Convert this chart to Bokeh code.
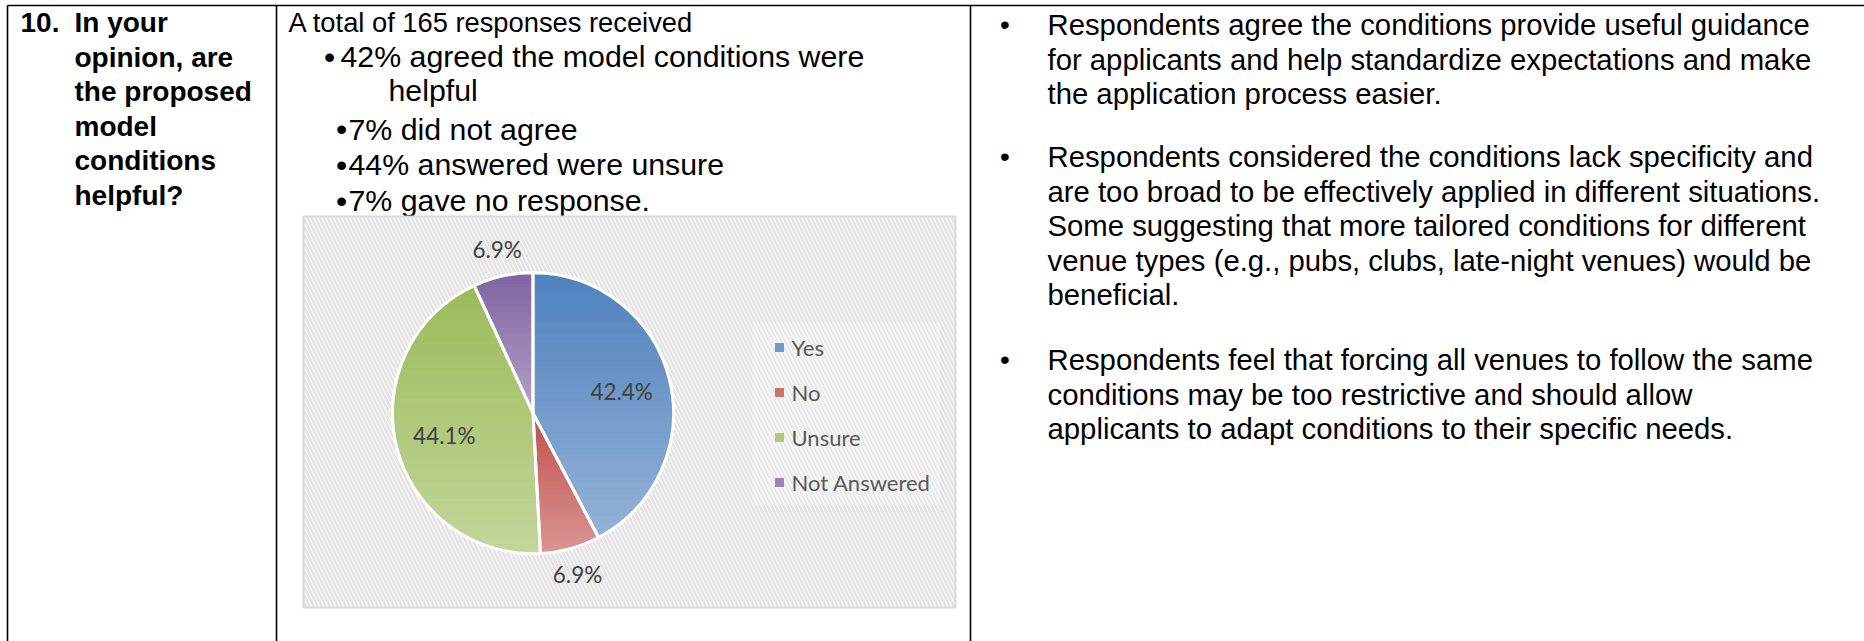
import numpy as np
from bokeh.plotting import figure
from bokeh.models import Range1d
from bokeh.core.properties import value
from bokeh.embed import file_html
from bokeh.resources import INLINE

# ---------------- data ----------------
categories = ["Yes", "No", "Unsure", "Not Answered"]
percents = [42.4, 6.9, 44.1, 6.9]
label_texts = ["42.4%", "6.9%", "44.1%", "6.9%"]
top_colors = ["#4f81bd", "#c0504d", "#9bbb59", "#8064a2"]
bottom_colors = ["#95b3d7", "#d99694", "#c3d69b", "#b3a2c7"]
label_outside = [False, True, False, True]

question_number = "10."
question_lines = ["In your", "opinion, are", "the proposed", "model", "conditions", "helpful?"]

summary_title = "A total of 165 responses received"
summary_lines = ["42% agreed the model conditions were", "helpful", "7% did not agree",
                 "44% answered were unsure", "7% gave no response."]

comment_paragraphs = [
    ["Respondents agree the conditions provide useful guidance",
     "for applicants and help standardize expectations and make",
     "the application process easier."],
    ["Respondents considered the conditions lack specificity and",
     "are too broad to be effectively applied in different situations.",
     "Some suggesting that more tailored conditions for different",
     "venue types (e.g., pubs, clubs, late-night venues) would be",
     "beneficial."],
    ["Respondents feel that forcing all venues to follow the same",
     "conditions may be too restrictive and should allow",
     "applicants to adapt conditions to their specific needs."],
]

# ---------------- layout helpers (page pixel coords) ----------------
W, H = 1864, 641


def Y(yp):
    return H - yp


p = figure(width=W, height=H, x_range=Range1d(0, W), y_range=Range1d(0, H),
           output_backend="svg", toolbar_location=None, min_border=0,
           x_axis_location=None, y_axis_location=None)
p.grid.visible = False
p.outline_line_color = None
p.background_fill_color = "white"

ARIAL = value("Liberation Sans")
CAL = value("Lato")

# ---------------- table lines ----------------
p.segment(x0=[7, 7, 276, 970], y0=[Y(5), Y(5), Y(5), Y(5)],
          x1=[1864, 7, 276, 970], y1=[Y(5), Y(641), Y(641), Y(641)],
          line_color="black", line_width=1.6)

# ---------------- column 1 ----------------
fs1 = "28px"
mid1 = [22 + 34.5 * i for i in range(len(question_lines))]
p.text(x=[20], y=[Y(mid1[0])], text=[question_number], text_font=ARIAL,
       text_font_size=fs1, text_font_style="bold", text_baseline="middle", text_color="black")
p.text(x=[74] * len(question_lines), y=[Y(m) for m in mid1], text=question_lines,
       text_font=ARIAL, text_font_size=fs1, text_font_style="bold",
       text_baseline="middle", text_color="black")

# ---------------- column 2 ----------------
mid2 = [22, 56, 89.5, 128.5, 164, 200]
p.text(x=[288], y=[Y(mid2[0])], text=[summary_title], text_font=ARIAL,
       text_font_size="27.3px", text_baseline="middle", text_color="black")
x2 = [340, 388, 348, 348, 348]
p.text(x=x2, y=[Y(m) for m in mid2[1:]], text=summary_lines, text_font=ARIAL,
       text_font_size="30.3px", text_baseline="middle", text_color="black")
bul2_x = [329, 341, 341, 341]
bul2_y = [mid2[1], mid2[3], mid2[4], mid2[5]]
p.text(x=bul2_x, y=[Y(m) for m in bul2_y], text=["\u2022"] * 4, text_font=ARIAL,
       text_font_size="32px", text_align="center", text_baseline="middle", text_color="black")

# ---------------- column 3 ----------------
fs3 = "29.3px"
para_start = [24, 156, 359]
xs3, ys3, ts3, bx, by = [], [], [], [], []
for start, para in zip(para_start, comment_paragraphs):
    for i, line in enumerate(para):
        xs3.append(1047)
        ys3.append(Y(start + 34.5 * i))
        ts3.append(line)
    bx.append(1004.5)
    by.append(Y(start))
p.text(x=xs3, y=ys3, text=ts3, text_font=ARIAL, text_font_size=fs3,
       text_baseline="middle", text_color="black")
p.text(x=bx, y=by, text=["\u2022"] * 3, text_font=ARIAL, text_font_size="28px",
       text_align="center", text_baseline="middle", text_color="black")

# ---------------- chart area ----------------
p.quad(left=[303], right=[955], top=[Y(216)], bottom=[Y(607)],
       fill_color="#fcfcfc", hatch_pattern="\\", hatch_color="#e2e2e2",
       hatch_scale=8, hatch_weight=2.4, line_color="#d9d9d9", line_width=2)
p.quad(left=[752], right=[940], top=[Y(322)], bottom=[Y(505)],
       fill_color="white", fill_alpha=0.28, line_color=None)

cx, cy, R = 532.5, Y(412.7), 140.5
vals = np.array(percents, dtype=float)
frac = vals / vals.sum()
ang_start = np.pi / 2 - 2 * np.pi * np.concatenate([[0], np.cumsum(frac)[:-1]])
ang_end = ang_start - 2 * np.pi * frac   # clockwise
mid = (ang_start + ang_end) / 2


def hex2rgb(h):
    h = h.lstrip("#")
    return np.array([int(h[i:i + 2], 16) for i in (0, 2, 4)], dtype=float)


def rgb2hex(c):
    c = np.clip(np.round(c), 0, 255).astype(int)
    return "#%02x%02x%02x" % tuple(c)


mid_colors = [rgb2hex((hex2rgb(a) + hex2rgb(b)) / 2) for a, b in zip(top_colors, bottom_colors)]

# base slices
p.wedge(x=[cx] * 4, y=[cy] * 4, radius=R, start_angle=list(ang_end), end_angle=list(ang_start),
        direction="anticlock", fill_color=mid_colors, line_color=None)


def clip_half(poly, yv, keep_above):
    out = []
    n = len(poly)
    for i in range(n):
        a = poly[i]
        b = poly[(i + 1) % n]
        ina = a[1] >= yv if keep_above else a[1] <= yv
        inb = b[1] >= yv if keep_above else b[1] <= yv
        if ina:
            out.append(a)
        if ina != inb:
            t = (yv - a[1]) / (b[1] - a[1])
            out.append((a[0] + t * (b[0] - a[0]), yv))
    return out


# vertical gradient per slice
band_xs, band_ys, band_cols = [], [], []
NB = 48
for i in range(4):
    th = np.linspace(ang_end[i], ang_start[i], 90)
    poly = [(cx, cy)] + [(cx + R * np.cos(t), cy + R * np.sin(t)) for t in th]
    ymin = min(q[1] for q in poly)
    ymax = max(q[1] for q in poly)
    edges = np.linspace(ymax, ymin, NB + 1)
    ct, cb = hex2rgb(top_colors[i]), hex2rgb(bottom_colors[i])
    for k in range(NB):
        y_hi, y_lo = edges[k], edges[k + 1]
        piece = clip_half(clip_half(poly, y_lo, True), y_hi, False)
        if len(piece) < 3:
            continue
        t = (k + 0.5) / NB
        band_xs.append([q[0] for q in piece])
        band_ys.append([q[1] for q in piece])
        band_cols.append(rgb2hex(ct + t * (cb - ct)))
p.patches(xs=band_xs, ys=band_ys, fill_color=band_cols, line_color=band_cols, line_width=0.8)

# white separators
p.wedge(x=[cx] * 4, y=[cy] * 4, radius=R, start_angle=list(ang_end), end_angle=list(ang_start),
        direction="anticlock", fill_color=None, line_color="white", line_width=3)

# data labels
lr = np.array([1.19 if o else 0.65 for o in label_outside]) * R
p.text(x=list(cx + lr * np.cos(mid)), y=list(cy + lr * np.sin(mid)), text=label_texts,
       text_font=CAL, text_font_size="22.5px", text_color="#404040",
       text_align="center", text_baseline="middle")

# legend
leg_y = [Y(347 + 45 * i) for i in range(4)]
p.rect(x=[779] * 4, y=leg_y, width=9, height=9, fill_color=mid_colors, line_color=None)
p.text(x=[791] * 4, y=leg_y, text=categories, text_font=CAL, text_font_size="22px",
       text_color="#595959", text_baseline="middle")

open("out.html", "w").write(file_html(p, INLINE))
